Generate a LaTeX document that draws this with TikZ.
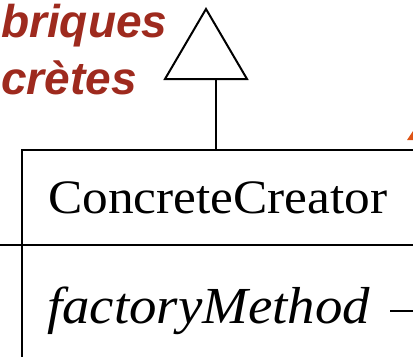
\documentclass[tikz,border=0pt]{standalone}
\usepackage{fontspec}
\setmainfont{Liberation Serif}
\newfontfamily\titlefont{Liberation Sans}
\definecolor{brick}{RGB}{158,42,30}
\definecolor{tipcol}{RGB}{222,84,22}
\tikzset{
  titletext/.style={anchor=base west, inner sep=0pt, text=brick,
    font=\titlefont\bfseries\itshape\fontsize{46}{56}\selectfont},
  umltext/.style={anchor=base west, inner sep=0pt, font=\fontsize{48}{56}\selectfont},
  umlline/.style={line width=2pt, draw=black},
}
\begin{document}
\begin{tikzpicture}[x=1pt,y=-1pt]
\useasboundingbox (0,0) rectangle (413,357);
\clip (0,0) rectangle (413,357);
% title fragment
\node[titletext] (t1) at (1,37) {briques};
\node[titletext] (t2) at (1,94) {crètes};
% class box
\coordinate (boxtl) at (22,150);
\coordinate (boxbl) at (22,357);
\coordinate (boxtr) at (413,150);
\coordinate (divl) at (0,245);
\coordinate (divr) at (413,245);
\draw[umlline] (boxtr) -- (boxtl) -- (boxbl);
\draw[umlline] (divl) -- (divr);
\node[umltext] (cname) at (48,213) {\scalebox{1.07}[1]{ConcreteCreator}};
\node[umltext, font=\itshape\fontsize{52}{60}\selectfont] (meth) at (47,323) {\scalebox{1.055}[1]{factoryMethod}};
\coordinate (mline) at (390,311);
\coordinate (mlineend) at (413,311);
\draw[umlline] (mline) -- (mlineend);
% generalization triangle
\coordinate (apex) at (206,9);
\coordinate (bl) at (165,79);
\coordinate (br) at (247,79);
\coordinate (stem) at (216,79);
\draw[umlline, line join=miter] (apex) -- (br) -- (bl) -- cycle;
\draw[umlline] (stem) -- (216,150);
% orange arrow tip fragment
\fill[tipcol] (407,140) -- (413,131) -- (413,140) -- cycle;
\end{tikzpicture}
\end{document}
